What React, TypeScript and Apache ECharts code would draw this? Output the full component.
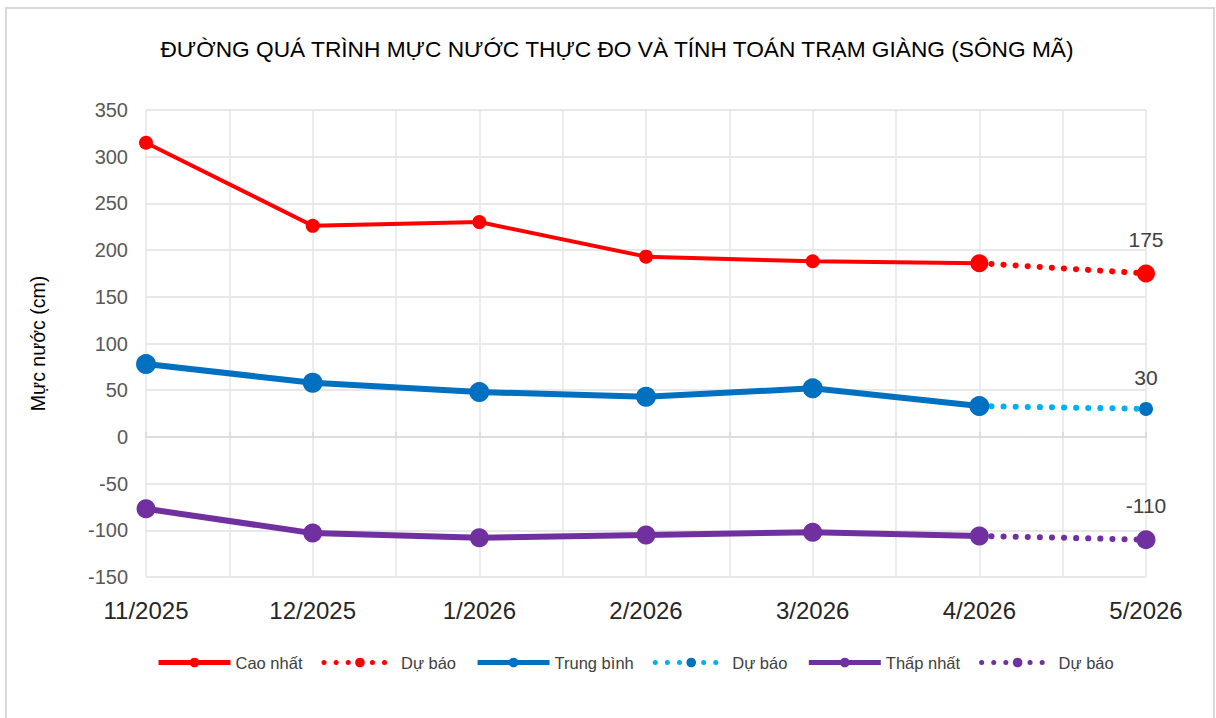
import React, { useEffect, useRef } from "react";
import * as echarts from "echarts";

const categories = ["11/2025", "12/2025", "1/2026", "2/2026", "3/2026", "4/2026", "5/2026"];
const caoNhat = [315, 226, 230, 193, 188, 186];
const caoNhatDuBao = [186, 175];
const trungBinh = [78, 58, 48, 43, 52, 33];
const trungBinhDuBao = [33, 30];
const thapNhat = [-77, -103, -108, -105, -102, -106];
const thapNhatDuBao = [-106, -110];
const yTicks = { min: -150, max: 350, interval: 50 };

const FONT = "'Liberation Sans', 'Noto Sans', sans-serif";

function toPts(vals: number[], start: number) {
  return vals.map((v, i) => [start + i, v]);
}

export default function App() {
  const ref = useRef<HTMLDivElement>(null);
  useEffect(() => {
    if (!ref.current) return;
    const chart = echarts.init(ref.current, undefined, { renderer: "svg" });
    const dotted = (color: string, width: number) => ({
      color,
      width,
      type: [0.1, 12] as any,
      cap: "round" as any,
    });
    const fcData = (vals: number[], endSize: number) =>
      toPts(vals, 5).map((p, i) => ({
        value: p,
        symbolSize: i === 0 ? 0 : endSize,
      }));
    const endLabel = {
      show: true,
      position: "top" as any,
      distance: 14,
      color: "#404040",
      fontSize: 21,
      fontFamily: FONT,
      formatter: (p: any) => (p.dataIndex === 1 ? String(p.value[1]) : ""),
    };
    chart.setOption({
      animation: false,
      backgroundColor: "#ffffff",
      title: {
        text: "ĐƯỜNG QUÁ TRÌNH MỰC NƯỚC THỰC ĐO VÀ TÍNH TOÁN TRẠM GIÀNG (SÔNG MÃ)",
        left: 612,
        textAlign: "center",
        top: 32,
        textStyle: { fontFamily: FONT, fontSize: 22.7, fontWeight: "normal", color: "#000000" },
      },
      graphic: [
        {
          type: "rect",
          shape: { x: 6, y: 8, width: 1208, height: 720 },
          style: { fill: "none", stroke: "#d9d9d9", lineWidth: 2 },
          silent: true,
        },
      ],
      grid: { left: 146, right: 70, top: 110, bottom: 141 },
      legend: {
        bottom: 42,
        left: 151,
        itemWidth: 72,
        itemHeight: 12,
        itemGap: 19,
        lineStyle: { width: 5 },
        textStyle: { fontFamily: FONT, fontSize: 16.5, color: "#404040" },
        formatter: (n: string) => n.trim(),
        data: ["Cao nhất", "Dự báo", "Trung bình", "Dự báo ", "Thấp nhất", "Dự báo  "],
      },
      xAxis: [
        {
          type: "value",
          min: 0,
          max: 6,
          interval: 0.5,
          position: "bottom",
          axisLine: { show: false, onZero: false },
          axisTick: { show: false },
          splitLine: { show: true, lineStyle: { color: "#e6e6e6", width: 1.5 } },
          axisLabel: {
            margin: 21,
            fontFamily: FONT,
            fontSize: 24,
            color: "#262626",
            formatter: (v: number) => (Number.isInteger(v) ? categories[v] : ""),
          },
        },
        {
          type: "value",
          min: 0,
          max: 6,
          interval: 0.5,
          position: "bottom",
          axisLine: { show: true, onZero: true, lineStyle: { color: "#d9d9d9", width: 1.5 } },
          axisTick: { show: true, inside: true, length: 5, lineStyle: { color: "#d9d9d9", width: 1.5 } },
          axisLabel: { show: false },
          splitLine: { show: false },
        },
      ],
      yAxis: {
        type: "value",
        min: yTicks.min,
        max: yTicks.max,
        interval: yTicks.interval,
        name: "Mực nước (cm)",
        nameLocation: "middle",
        nameGap: 98,
        nameTextStyle: { fontFamily: FONT, fontSize: 19.5, color: "#000000" },
        axisLine: { show: false },
        axisTick: { show: false },
        splitLine: { show: true, lineStyle: { color: "#e0e0e0", width: 1.5 } },
        axisLabel: { fontFamily: FONT, fontSize: 20, color: "#595959", margin: 18 },
      },
      series: [
        {
          name: "Cao nhất",
          type: "line",
          data: toPts(caoNhat, 0).map((p, i) => ({ value: p, symbolSize: i === 5 ? 18 : 14 })),
          symbol: "circle",
          symbolSize: 14,
          lineStyle: { color: "#ff0000", width: 4 },
          itemStyle: { color: "#ff0000" },
          z: 3,
        },
        {
          name: "Dự báo",
          type: "line",
          data: fcData(caoNhatDuBao, 18),
          symbol: "circle",
          lineStyle: dotted("#ff0000", 6),
          itemStyle: { color: "#ff0000" },
          label: endLabel,
          z: 2,
        },
        {
          name: "Trung bình",
          type: "line",
          data: toPts(trungBinh, 0),
          symbol: "circle",
          symbolSize: 20,
          lineStyle: { color: "#0070c0", width: 6 },
          itemStyle: { color: "#0070c0" },
          z: 3,
        },
        {
          name: "Dự báo ",
          type: "line",
          data: fcData(trungBinhDuBao, 14),
          symbol: "circle",
          lineStyle: dotted("#00b0f0", 6),
          itemStyle: { color: "#0070c0" },
          label: endLabel,
          z: 2,
        },
        {
          name: "Thấp nhất",
          type: "line",
          data: toPts(thapNhat, 0),
          symbol: "circle",
          symbolSize: 19,
          lineStyle: { color: "#7030a0", width: 6 },
          itemStyle: { color: "#7030a0" },
          z: 3,
        },
        {
          name: "Dự báo  ",
          type: "line",
          data: fcData(thapNhatDuBao, 19),
          symbol: "circle",
          lineStyle: dotted("#7030a0", 6),
          itemStyle: { color: "#7030a0" },
          label: endLabel,
          z: 2,
        },
      ],
    });
    return () => chart.dispose();
  }, []);
  return <div ref={ref} style={{ width: 1216, height: 718, position: "absolute", left: 0, top: 0 }} />;
}
